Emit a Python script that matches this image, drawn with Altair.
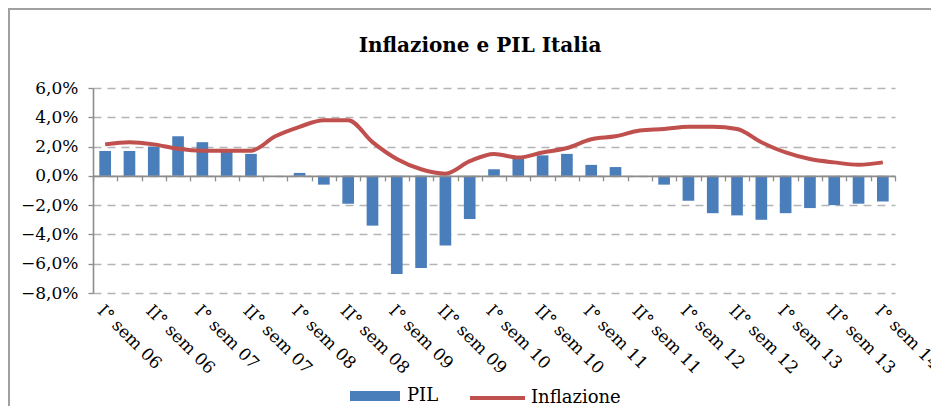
import json
import altair as alt
import pandas as pd

# Etichette dell'asse (una ogni due trimestri)
etichette = ["I° sem 06", "II° sem 06", "I° sem 07", "II° sem 07", "I° sem 08",
             "II° sem 08", "I° sem 09", "II° sem 09", "I° sem 10", "II° sem 10",
             "I° sem 11", "II° sem 11", "I° sem 12", "II° sem 12", "I° sem 13",
             "II° sem 13", "I° sem 14"]

# PIL (variazione %), 33 trimestri
pil = [1.7, 1.7, 2.0, 2.7, 2.3, 1.8, 1.5, 0.0, 0.2, -0.6, -1.9, -3.4, -6.7, -6.3,
       -4.75, -2.95, 0.45, 1.2, 1.4, 1.5, 0.75, 0.6, 0.0, -0.6, -1.7, -2.55, -2.7,
       -3.0, -2.55, -2.2, -2.0, -1.9, -1.75]

# Inflazione (%), 33 trimestri
inflazione = [2.15, 2.3, 2.15, 1.85, 1.72, 1.72, 1.72, 2.7, 3.35, 3.8, 3.8, 2.3,
              1.15, 0.45, 0.15, 1.0, 1.5, 1.25, 1.6, 1.9, 2.5, 2.7, 3.1, 3.2,
              3.35, 3.35, 3.2, 2.3, 1.6, 1.15, 0.92, 0.76, 0.92]

df = pd.DataFrame({
    "i": list(range(len(pil))),
    "pil": pil,
    "inflazione": inflazione,
    "s_pil": ["PIL"] * len(pil),
    "s_inf": ["Inflazione"] * len(pil),
})

FONT = "DejaVu Serif"
W, H = 802, 205
zero_from_bottom = H * 8 / 14

label_expr = ("datum.value % 2 == 0 ? " + json.dumps(etichette, ensure_ascii=False)
              + "[datum.value / 2] : ''")

x_axis = alt.Axis(
    orient="bottom", offset=-zero_from_bottom, tickBand="extent",
    ticks=True, tickSize=5, tickColor="#8c8c8c", tickWidth=1.3,
    domain=True, domainColor="#8c8c8c", domainWidth=1.6,
    labelPadding=zero_from_bottom + 4, labelAngle=45, labelAlign="left",
    labelBaseline="top", labelExpr=label_expr, labelFont=FONT,
    labelFontSize=17, labelColor="black", labelOverlap=False,
    labelBound=False, grid=False, title=None, zindex=1,
)
x_scale = alt.Scale(paddingInner=0, paddingOuter=0)

y_axis = alt.Axis(
    values=[-8, -6, -4, -2, 0, 2, 4, 6],
    labelExpr="replace(format(datum.value, '.1f'), '.', ',') + '%'",
    labelFont=FONT, labelFontSize=17, labelColor="black", labelPadding=10,
    labelOverlap=False,
    tickSize=5, tickColor="#8c8c8c", tickWidth=1.3,
    domainColor="#8c8c8c", domainWidth=1.6,
    grid=True, gridDash=[8, 6], gridColor="#b4b4b4", gridWidth=1.4,
    title=None,
)
y_scale = alt.Scale(domain=[-8, 6], nice=False, zero=False)

bars = alt.Chart(df).mark_bar(width=alt.RelativeBandSize(0.48)).encode(
    x=alt.X("i:O", scale=x_scale, axis=x_axis),
    y=alt.Y("pil:Q", scale=y_scale, axis=y_axis),
    color=alt.Color(
        "s_pil:N", scale=alt.Scale(range=["#4a7ebb"]),
        legend=alt.Legend(
            orient="none", legendX=257, legendY=283, title=None,
            symbolType="M-1,-0.2H1V0.2H-1Z", symbolSize=2500,
            symbolStrokeWidth=0, labelFont=FONT, labelFontSize=18,
            labelColor="black", labelOffset=7, padding=0,
        ),
    ),
)

line = alt.Chart(df).mark_line(
    strokeWidth=4, interpolate="monotone"
).encode(
    x=alt.X("i:O", scale=x_scale, axis=x_axis),
    y=alt.Y("inflazione:Q", scale=y_scale, axis=y_axis),
    color=alt.Color(
        "s_inf:N", scale=alt.Scale(range=["#c0504d"]),
        legend=alt.Legend(
            orient="none", legendX=375, legendY=280.5, title=None,
            symbolType="stroke", symbolSize=3025, symbolStrokeWidth=4,
            labelFont=FONT, labelFontSize=18, labelColor="black",
            labelOffset=4, padding=0,
        ),
    ),
)

# cornice del grafico (lati sinistro e superiore visibili)
frame_left = alt.Chart(df).mark_rule(color="#a0a0a0", strokeWidth=2).encode(
    x=alt.value(-84), y=alt.value(-79), y2=alt.value(318)
)
frame_top = alt.Chart(df).mark_rule(color="#a0a0a0", strokeWidth=2).encode(
    x=alt.value(-85), x2=alt.value(846), y=alt.value(-79)
)

chart = alt.layer(bars, line, frame_left, frame_top).resolve_scale(
    color="independent"
).properties(
    width=W, height=H,
    title=alt.TitleParams(
        "Inflazione e PIL Italia", font=FONT, fontSize=20, fontWeight="bold",
        color="black", anchor="middle", frame="group", offset=0, dy=64,
        baseline="alphabetic", dx=-14,
    ),
    autosize=alt.AutoSizeParams(type="none"),
    padding={"left": 85, "top": 80, "right": 36, "bottom": 113},
).configure_view(stroke=None)

chart.save("out.html", embed_options={"renderer": "svg", "actions": False})
